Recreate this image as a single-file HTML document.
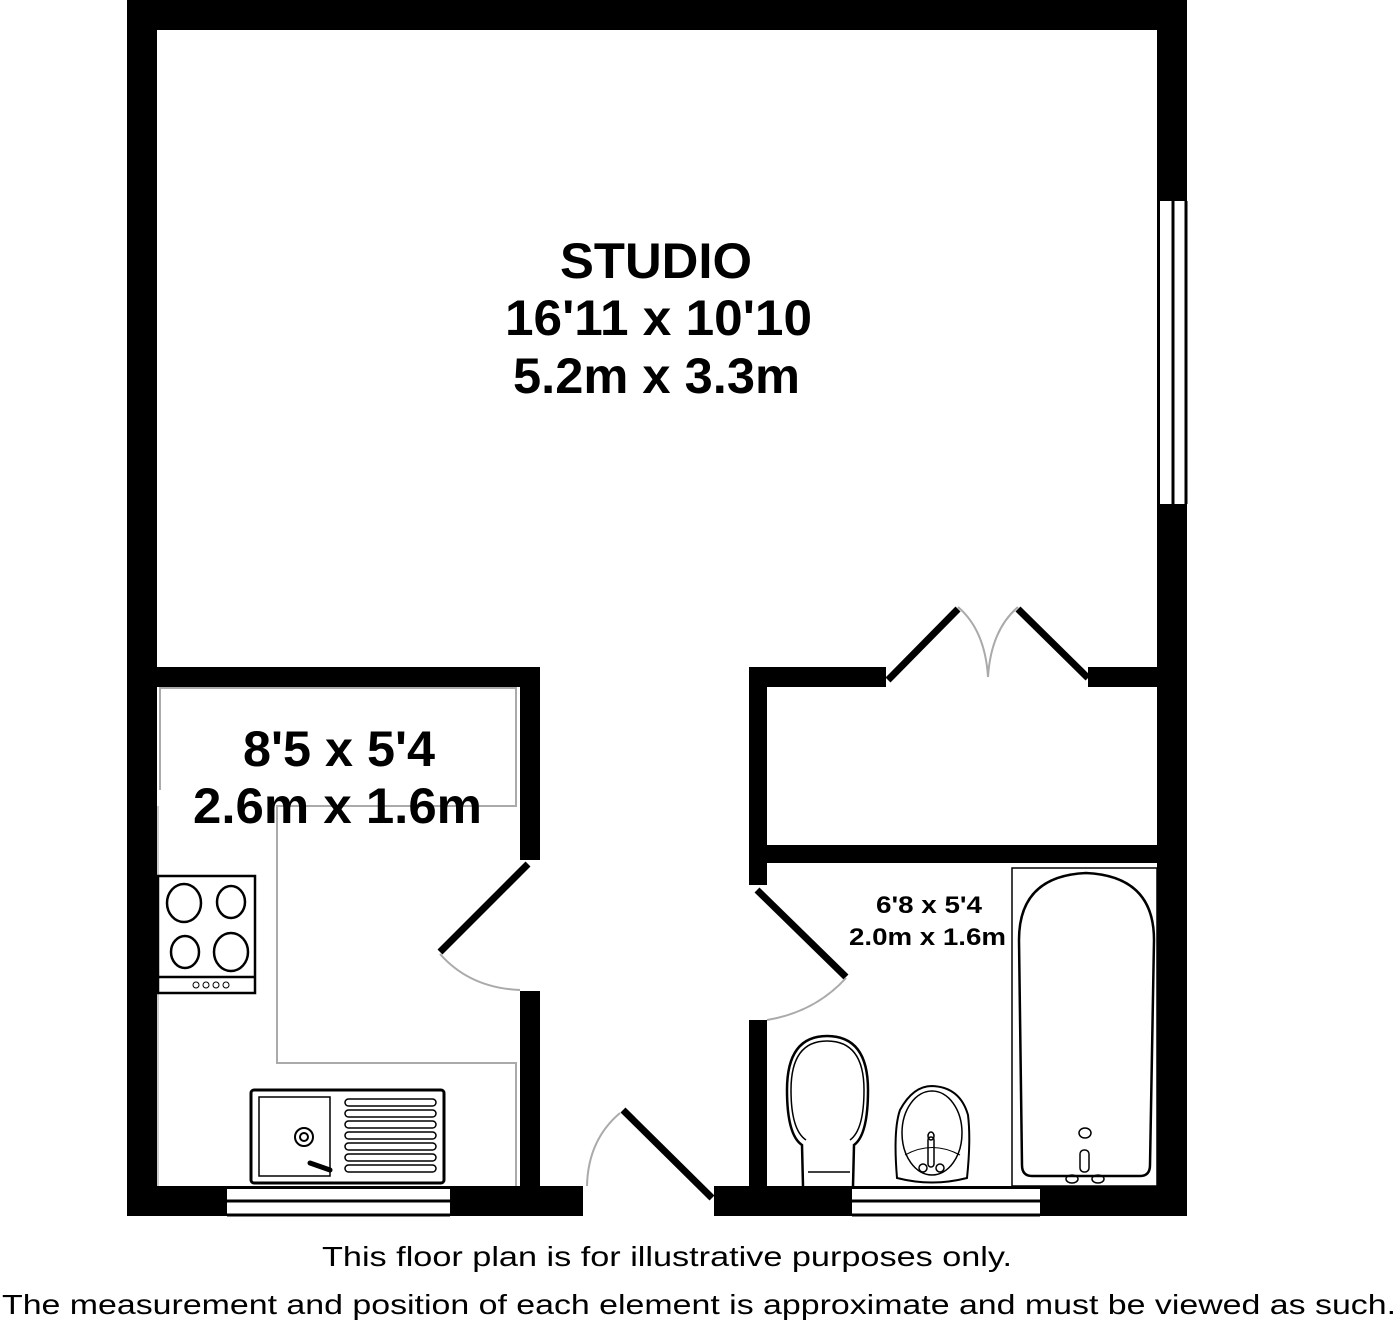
<!DOCTYPE html>
<html><head><meta charset="utf-8"><style>
html,body{margin:0;padding:0;background:#fff;}
svg{display:block;}
</style></head><body>
<svg width="1398" height="1322" viewBox="0 0 1398 1322" xmlns="http://www.w3.org/2000/svg">
<rect width="1398" height="1322" fill="#fff"/>
<g fill="#000">
<rect x="127" y="0" width="1060" height="30"/>
<rect x="127" y="0" width="30" height="1216"/>
<rect x="1157" y="0" width="30" height="201"/>
<rect x="1157" y="504" width="30" height="712"/>
<rect x="127" y="1186" width="100" height="30"/>
<rect x="450" y="1186" width="133" height="30"/>
<rect x="714" y="1186" width="138" height="30"/>
<rect x="1040" y="1186" width="147" height="30"/>
<rect x="157" y="667" width="383" height="20"/>
<rect x="520" y="667" width="20" height="193"/>
<rect x="520" y="991" width="20" height="196"/>
<rect x="749" y="667" width="137" height="20"/>
<rect x="1088" y="667" width="70" height="20"/>
<rect x="749" y="667" width="18" height="218"/>
<rect x="749" y="1020" width="18" height="167"/>
<rect x="749" y="845" width="409" height="18"/>
</g>
<g stroke="#000" stroke-width="3">
<line x1="1158.5" y1="201" x2="1158.5" y2="504"/>
<line x1="1173" y1="201" x2="1173" y2="504"/>
<line x1="1186" y1="201" x2="1186" y2="504"/>
<line x1="227" y1="1187.5" x2="450" y2="1187.5"/>
<line x1="227" y1="1201" x2="450" y2="1201"/>
<line x1="227" y1="1215" x2="450" y2="1215"/>
<line x1="852" y1="1187.5" x2="1040" y2="1187.5"/>
<line x1="852" y1="1201" x2="1040" y2="1201"/>
<line x1="852" y1="1215" x2="1040" y2="1215"/>
</g>
<g stroke="#000" stroke-width="7" stroke-linecap="butt">
<line x1="528" y1="864" x2="440" y2="952"/>
<line x1="757" y1="890" x2="846" y2="977"/>
<line x1="623" y1="1110" x2="712" y2="1198"/>
<line x1="888" y1="680" x2="958" y2="609"/>
<line x1="1018" y1="609" x2="1088" y2="678"/>
</g>
<g stroke="#aaa" stroke-width="2" fill="none">
<path d="M440 954 Q470 988 520 990"/>
<path d="M846 978 Q815 1012 767 1020"/>
<path d="M587 1186 Q588 1140 620 1113"/>
<path d="M958 607 Q985 630 988 677"/>
<path d="M1018 607 Q991 630 988 677"/>
</g>
<g stroke="#aaa" stroke-width="2" fill="none">
<polyline points="160,790 160,687"/>
<polyline points="160,688 516,688 516,806 277,806 277,1063 516,1063 516,1186"/>
<line x1="158" y1="806" x2="158" y2="1186" stroke="#ccc"/>
</g>
<g stroke="#000" stroke-width="2.5" fill="#fff">
<rect x="158" y="876" width="97" height="117"/>
<line x1="158" y1="977" x2="255" y2="977"/>
<ellipse cx="184" cy="903" rx="17" ry="19"/>
<ellipse cx="231" cy="902" rx="14" ry="16"/>
<ellipse cx="185" cy="952" rx="14" ry="16"/>
<ellipse cx="231" cy="952" rx="17" ry="19"/>
</g>
<g stroke="#000" stroke-width="1" fill="none">
<circle cx="196" cy="985" r="3"/><circle cx="206" cy="985" r="3"/><circle cx="216" cy="985" r="3"/><circle cx="226" cy="985" r="3"/>
</g>
<g stroke="#000" fill="#fff">
<rect x="251" y="1090" width="193" height="93" rx="3" stroke-width="3"/>
<rect x="259" y="1097" width="71" height="79" stroke-width="1.5"/>
<circle cx="304" cy="1137" r="9" stroke-width="2"/>
<circle cx="304" cy="1137" r="4" stroke-width="2"/>
<line x1="310" y1="1163" x2="330" y2="1170" stroke-width="5" stroke-linecap="round"/>
</g>
<g stroke="#000" stroke-width="1.5" fill="none">
<rect x="345" y="1099" width="91" height="7" rx="3.5"/>
<rect x="345" y="1110" width="91" height="7" rx="3.5"/>
<rect x="345" y="1121" width="91" height="7" rx="3.5"/>
<rect x="345" y="1132" width="91" height="7" rx="3.5"/>
<rect x="345" y="1143" width="91" height="7" rx="3.5"/>
<rect x="345" y="1154" width="91" height="7" rx="3.5"/>
<rect x="345" y="1165" width="91" height="7" rx="3.5"/>
</g>
<g stroke="#000" fill="none">
<rect x="1012" y="868" width="145" height="318" stroke-width="1.5"/>
<path d="M1022 1165 L1019 940 Q1019 876 1086 873 Q1154 876 1154 940 L1150 1165 Q1150 1176 1140 1176 L1032 1176 Q1022 1176 1022 1165 Z" stroke-width="2.5"/>
<ellipse cx="1085" cy="1133" rx="6" ry="5" stroke-width="1.5"/>
<rect x="1080" y="1150" width="9" height="22" rx="4" stroke-width="1.5"/>
<ellipse cx="1072" cy="1179" rx="6" ry="4" stroke-width="1.5"/>
<ellipse cx="1098" cy="1179" rx="6" ry="4" stroke-width="1.5"/>
</g>
<g stroke="#000" fill="none" stroke-width="2.5">
<path d="M803 1186 L802 1145 Q787 1135 787 1090 Q787 1036 827 1036 Q868 1036 868 1090 Q868 1135 854 1145 L853 1186"/>
<path d="M806 1140 Q791 1130 791 1090 Q791 1041 827 1041 Q864 1041 864 1090 Q864 1130 850 1140" stroke-width="1.5"/>
<line x1="808" y1="1172" x2="850" y2="1172" stroke-width="1.5"/>
</g>
<g stroke="#000" fill="none">
<path d="M897 1178 Q893 1130 900 1110 Q913 1086 932 1086 Q960 1087 968 1115 Q971 1140 967 1178 Q932 1187 897 1178 Z" stroke-width="2"/>
<ellipse cx="932" cy="1133" rx="30" ry="42" stroke-width="1.5"/>
<path d="M905 1155 Q932 1140 960 1155" stroke-width="1"/>
<rect x="928" y="1137" width="6" height="30" rx="3" stroke-width="1.5"/>
<ellipse cx="931" cy="1136" rx="3" ry="4" stroke-width="1.5"/>
<ellipse cx="923" cy="1168" rx="4" ry="4" stroke-width="1.5"/>
<ellipse cx="940" cy="1168" rx="4" ry="4" stroke-width="1.5"/>
</g>
<g font-family="Liberation Sans, Arial, sans-serif" font-weight="bold" fill="#000" lengthAdjust="spacingAndGlyphs">
<text x="560" y="278" font-size="50" textLength="192" lengthAdjust="spacingAndGlyphs">STUDIO</text>
<text x="505" y="335" font-size="50" textLength="307" lengthAdjust="spacingAndGlyphs">16'11 x 10'10</text>
<text x="513" y="393" font-size="50" textLength="287" lengthAdjust="spacingAndGlyphs">5.2m x 3.3m</text>
<text x="243" y="766" font-size="50" textLength="192" lengthAdjust="spacingAndGlyphs">8'5 x 5'4</text>
<text x="193" y="823" font-size="50" textLength="289" lengthAdjust="spacingAndGlyphs">2.6m x 1.6m</text>
<text x="876" y="913" font-size="24" textLength="106" lengthAdjust="spacingAndGlyphs">6'8 x 5'4</text>
<text x="849" y="945" font-size="24" textLength="157" lengthAdjust="spacingAndGlyphs">2.0m x 1.6m</text>
</g>
<g font-family="Liberation Sans, Arial, sans-serif" fill="#000" font-size="28">
<text x="322" y="1266" textLength="690" lengthAdjust="spacingAndGlyphs">This floor plan is for illustrative purposes only.</text>
<text x="2" y="1314" textLength="1394" lengthAdjust="spacingAndGlyphs">The measurement and position of each element is approximate and must be viewed as such.</text>
</g>
</svg>
</body></html>
